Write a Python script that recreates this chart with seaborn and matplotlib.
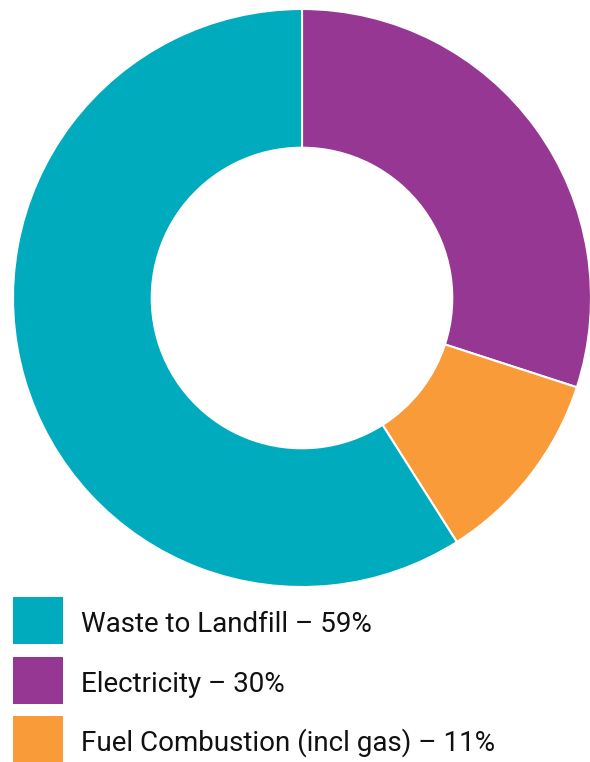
import matplotlib
matplotlib.use("Agg")
import matplotlib.pyplot as plt
import seaborn as sns
from matplotlib.patches import Rectangle

# --- Data ---
categories = ["Waste to Landfill", "Electricity", "Fuel Combustion (incl gas)"]
shares = [59, 30, 11]
colors = ["#00ABBD", "#963794", "#F99B38"]

# draw order round the ring (clockwise from top)
pie_order = [1, 2, 0]

sns.set_theme(style="white")
plt.rcParams['font.family'] = ['Roboto', 'DejaVu Sans']

W, H = 590, 762
fig = plt.figure(figsize=(W / 100, H / 100), dpi=100)

# donut axes: centre (302, 298) px, radius 289 px
cx, cy, r = 302, 298, 289
ax = fig.add_axes([(cx - r) / W, (H - cy - r) / H, 2 * r / W, 2 * r / H])
ax.pie([shares[i] for i in pie_order],
       colors=[colors[i] for i in pie_order],
       startangle=90, counterclock=False, radius=1,
       wedgeprops=dict(width=0.48, edgecolor="white", linewidth=1.5))
ax.set_xlim(-1, 1)
ax.set_ylim(-1, 1)
ax.set_aspect("equal")
ax.axis("off")

# --- Legend (manual, left aligned under the donut) ---
row_top = [597, 657, 716]
for i, (cat, val, col) in enumerate(zip(categories, shares, colors)):
    top = row_top[i]
    fig.patches.append(Rectangle((13 / W, 1 - (top + 47) / H), 50 / W, 47 / H,
                                 transform=fig.transFigure, facecolor=col,
                                 edgecolor="none"))
    fig.text(81 / W, 1 - (top + 35) / H, f"{cat} \u2013 {val}%",
             fontsize=20, color="#111111", va="baseline", ha="left")

fig.savefig("out.png", dpi=100)
